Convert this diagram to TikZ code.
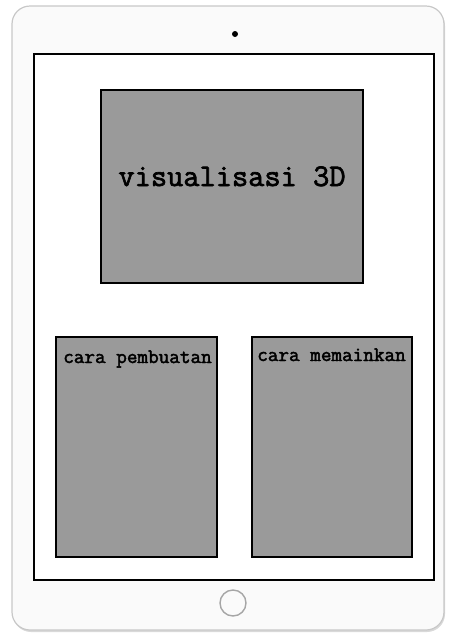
\documentclass[tikz,border=0pt]{standalone}
\usepackage{fontspec}
\newfontfamily\panelfont[FakeBold=2.2]{Latin Modern Mono}
\definecolor{panelgray}{HTML}{9A9A9A}
\definecolor{bodyfill}{HTML}{FAFAFA}
\definecolor{bodyline}{HTML}{C8C8C8}
\begin{document}
\begin{tikzpicture}[
  x=1pt, y=-1pt,
  tablet/.style={draw=bodyline, line width=1.2pt, fill=bodyfill, rounded corners=18pt},
  screen/.style={draw, line width=1.4pt, fill=white},
  panel/.style={draw, line width=1.4pt, fill=panelgray},
  title/.style={font=\panelfont\bfseries\fontsize{31.5}{34}\selectfont, anchor=base, inner sep=0pt},
  caption/.style={font=\panelfont\bfseries\fontsize{20.6}{23}\selectfont, anchor=base, inner sep=0pt}
]
\useasboundingbox (0,0) rectangle (449,633);
% tablet body
\fill[gray!30, rounded corners=18pt] (13,8) rectangle (445,632);
\draw[tablet] (12,6) rectangle (444,630);
\fill (235,34) circle (3);
\draw[gray!70, line width=1.4pt] (233,603) circle (13);
% screen and panels
\draw[screen] (34,54) rectangle (434,580);
\draw[panel] (101,90) rectangle (363,283);
\draw[panel] (56,337) rectangle (217,557);
\draw[panel] (252,337) rectangle (412,557);
\node[title] (visual) at (232,186) {visualisasi 3D};
\node[caption] (buat) at (137.5,363) {cara pembuatan};
\node[caption] (main) at (331.5,361) {cara memainkan};
\end{tikzpicture}
\end{document}
